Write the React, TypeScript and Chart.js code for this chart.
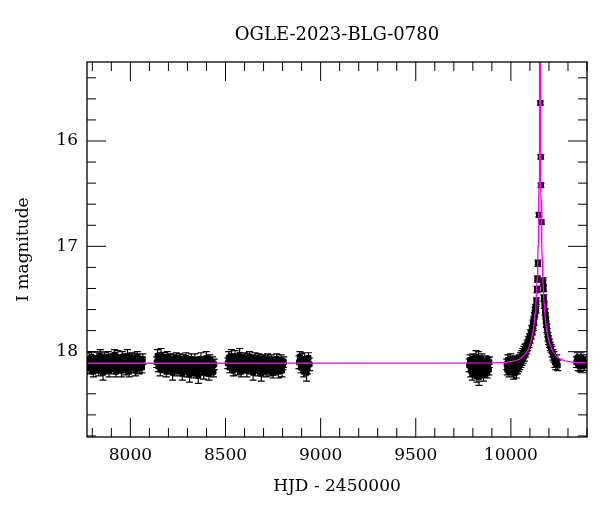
import React, { useEffect, useRef } from "react";
import { Chart, registerables } from "chart.js";

Chart.register(...registerables);

const TITLE = "OGLE-2023-BLG-0780";
const X_LABEL = "HJD - 2450000";
const Y_LABEL = "I magnitude";
const X_MIN = 7772;
const X_MAX = 10400;
const Y_MIN = 15.25;
const Y_MAX = 18.81;
const X_TICKS = [8000, 8500, 9000, 9500, 10000];
const Y_TICKS = [16, 17, 18];
const X_MINOR_STEP = 100;
const Y_MINOR_STEP = 0.2;

// [HJD-2450000, I mag, error]
const season1: number[][] = [
  [7778,18.12,.05],[7783,18.07,.06],[7787,18.16,.05],[7792,18.10,.05],[7796,18.05,.05],[7801,18.14,.06],[7805,18.19,.05],[7810,18.09,.05],[7815,18.11,.07],[7819,18.15,.05],
  [7824,18.06,.05],[7828,18.12,.06],[7833,18.18,.05],[7838,18.10,.05],[7842,18.04,.06],[7847,18.14,.05],[7851,18.08,.05],[7856,18.20,.07],[7861,18.11,.05],[7865,18.06,.05],
  [7870,18.15,.06],[7874,18.10,.05],[7879,18.13,.05],[7884,18.05,.05],[7888,18.18,.06],[7893,18.08,.05],[7897,18.14,.05],[7902,18.11,.06],[7907,18.07,.05],[7911,18.16,.05],
  [7916,18.03,.05],[7920,18.12,.06],[7925,18.19,.05],[7930,18.10,.05],[7934,18.06,.07],[7939,18.15,.05],[7943,18.08,.05],[7948,18.13,.05],[7953,18.18,.06],[7957,18.05,.05],
  [7962,18.11,.05],[7966,18.14,.06],[7971,18.07,.05],[7976,18.17,.05],[7980,18.10,.05],[7985,18.04,.06],[7989,18.12,.05],[7994,18.19,.05],[7999,18.08,.06],[8003,18.15,.05],
  [8008,18.06,.05],[8012,18.11,.05],[8017,18.14,.06],[8022,18.07,.05],[8026,18.18,.05],[8031,18.10,.06],[8036,18.05,.05],[8041,18.12,.05],[8046,18.16,.05],[8051,18.08,.06],
  [8056,18.11,.05],[8061,18.15,.05],[8065,18.07,.05],
];

const season2: number[][] = [
  [8138,18.10,.05],[8143,18.04,.06],[8147,18.14,.05],[8152,18.07,.05],[8157,18.17,.06],[8161,18.03,.06],[8166,18.11,.05],[8171,18.15,.05],[8175,18.06,.05],[8180,18.12,.06],
  [8185,18.08,.05],[8189,18.19,.05],[8194,18.05,.05],[8199,18.14,.06],[8203,18.10,.05],[8208,18.16,.05],[8213,18.07,.05],[8217,18.12,.05],[8222,18.20,.07],[8227,18.08,.05],
  [8231,18.15,.05],[8236,18.11,.06],[8241,18.06,.05],[8245,18.18,.05],[8250,18.10,.05],[8255,18.14,.06],[8259,18.07,.05],[8264,18.16,.05],[8269,18.11,.05],[8273,18.21,.06],
  [8278,18.08,.05],[8283,18.12,.05],[8287,18.15,.06],[8292,18.06,.05],[8297,18.19,.05],[8301,18.10,.05],[8306,18.14,.05],[8311,18.22,.07],[8315,18.11,.05],[8320,18.07,.05],
  [8325,18.16,.06],[8329,18.12,.05],[8334,18.20,.05],[8339,18.08,.06],[8343,18.15,.05],[8348,18.11,.05],[8353,18.18,.05],[8357,18.23,.07],[8362,18.10,.05],[8367,18.14,.05],
  [8371,18.07,.06],[8376,18.16,.05],[8381,18.12,.05],[8385,18.20,.06],[8390,18.10,.05],[8395,18.15,.05],[8399,18.06,.06],[8404,18.18,.05],[8409,18.11,.05],[8413,18.21,.06],
  [8418,18.08,.05],[8423,18.14,.05],[8427,18.16,.06],[8432,18.10,.05],[8437,18.19,.05],[8441,18.12,.05],
];

const season3: number[][] = [
  [8512,18.11,.05],[8517,18.06,.06],[8522,18.15,.05],[8526,18.08,.05],[8531,18.04,.06],[8536,18.12,.05],[8541,18.18,.05],[8545,18.10,.05],[8550,18.05,.06],[8555,18.14,.05],
  [8560,18.07,.05],[8564,18.16,.06],[8569,18.11,.05],[8574,18.03,.06],[8579,18.12,.05],[8583,18.19,.05],[8588,18.08,.05],[8593,18.14,.06],[8598,18.06,.05],[8602,18.15,.05],
  [8607,18.10,.05],[8612,18.18,.06],[8617,18.07,.05],[8621,18.12,.05],[8626,18.05,.05],[8631,18.16,.05],[8636,18.11,.06],[8640,18.08,.05],[8645,18.20,.07],[8650,18.14,.05],
  [8655,18.06,.05],[8659,18.12,.05],[8664,18.10,.06],[8669,18.18,.05],[8674,18.07,.05],[8678,18.15,.05],[8683,18.11,.06],[8688,18.21,.07],[8693,18.08,.05],[8697,18.14,.05],
  [8702,18.16,.05],[8707,18.10,.06],[8712,18.19,.05],[8716,18.12,.05],[8721,18.07,.05],[8726,18.15,.06],[8731,18.11,.05],[8735,18.18,.05],[8740,18.08,.05],[8745,18.14,.06],
  [8750,18.20,.05],[8754,18.10,.05],[8759,18.16,.06],[8764,18.12,.05],[8769,18.07,.05],[8773,18.15,.05],[8778,18.19,.06],[8783,18.11,.05],[8788,18.14,.05],[8792,18.08,.05],
  [8797,18.18,.06],[8802,18.12,.05],[8806,18.10,.05],
];

const season4: number[][] = [
  [8886,18.10,.06],[8891,18.05,.05],[8896,18.15,.05],[8901,18.08,.06],[8906,18.12,.05],[8911,18.19,.05],
  [8916,18.07,.06],[8921,18.14,.05],[8926,18.20,.08],[8931,18.16,.05],[8936,18.06,.05],[8942,18.12,.06],
];

const season5: number[][] = [
  [9781,18.13,.06],[9785,18.08,.05],[9789,18.18,.06],[9793,18.11,.05],[9797,18.21,.06],[9801,18.07,.05],[9805,18.16,.06],
  [9809,18.12,.05],[9813,18.19,.06],[9817,18.05,.06],[9821,18.23,.06],[9825,18.14,.05],[9829,18.06,.06],[9832,18.24,.08],
  [9836,18.17,.05],[9840,18.11,.06],[9844,18.20,.05],[9848,18.08,.06],[9852,18.15,.05],[9856,18.22,.06],[9860,18.12,.05],
  [9864,18.18,.06],[9868,18.09,.05],[9872,18.14,.06],[9876,18.20,.05],[9880,18.12,.06],[9884,18.17,.05],[9887,18.10,.05],
];

const season6: number[][] = [
  [9978,18.12,.05],[9981,18.17,.05],[9984,18.08,.05],[9987,18.14,.06],[9990,18.19,.05],[9993,18.11,.05],[9996,18.16,.05],[9999,18.07,.05],
  [10002,18.13,.05],[10005,18.18,.06],[10008,18.10,.05],[10011,18.15,.05],[10014,18.20,.06],[10017,18.12,.05],[10020,18.17,.05],[10023,18.09,.05],
  [10026,18.14,.05],[10029,18.19,.06],[10032,18.11,.05],[10035,18.16,.05],[10038,18.10,.05],[10041,18.14,.05],[10044,18.08,.05],[10047,18.12,.05],
  [10050,18.06,.05],[10053,18.10,.05],[10056,18.04,.05],[10059,18.08,.05],[10062,18.02,.05],[10065,18.06,.05],[10068,18.00,.05],[10071,18.04,.05],
  [10074,17.98,.05],[10077,18.01,.04],[10080,17.96,.04],[10083,17.98,.04],[10086,17.93,.04],[10089,17.95,.04],[10092,17.90,.04],[10095,17.92,.04],
  [10098,17.87,.04],[10101,17.88,.04],[10104,17.83,.04],[10107,17.84,.04],[10110,17.79,.04],[10113,17.80,.04],[10116,17.74,.04],[10118,17.76,.04],
  [10120,17.70,.03],[10122,17.72,.03],[10124,17.66,.03],[10126,17.64,.03],[10128,17.61,.03],[10130,17.58,.03],[10132,17.60,.03],[10134,17.52,.03],
  [10137,17.41,.03],[10139,17.31,.03],[10142,17.16,.03],[10147,16.70,.02],[10155,15.64,.02],[10157,16.15,.02],[10158,16.42,.02],[10161,16.77,.02],
  [10170,17.33,.03],[10172,17.40,.03],[10173,17.49,.03],[10176,17.56,.03],[10180,17.62,.03],[10182,17.66,.03],[10184,17.70,.03],[10186,17.74,.03],
  [10189,17.78,.04],[10192,17.82,.04],[10195,17.86,.04],[10199,17.89,.04],[10203,17.92,.04],[10207,17.95,.04],[10211,17.97,.04],[10216,18.00,.05],
  [10221,18.03,.05],[10226,18.05,.05],[10231,18.10,.05],[10236,18.12,.05],[10241,18.09,.06],[10246,18.13,.05],
];

const season7: number[][] = [
  [10344,18.10,.05],[10349,18.06,.05],[10354,18.13,.05],[10359,18.09,.06],[10364,18.14,.05],
  [10369,18.06,.05],[10374,18.11,.05],[10380,18.08,.05],[10386,18.13,.05],[10392,18.10,.05],
];

const observations: number[][] = [
  ...season1, ...season2, ...season3, ...season4, ...season5, ...season6, ...season7,
];

// model light curve
const modelTime: number[] = [
  7770, 9750, 9903, 9973, 10023, 10048, 10068, 10081, 10093, 10101, 10108, 10113, 10118, 10123,
  10127, 10131, 10135, 10138, 10141, 10143, 10145, 10147, 10148, 10149, 10150, 10151, 10152, 10153,
  10154, 10155, 10156, 10157, 10158, 10159, 10161, 10163, 10165, 10168, 10171, 10175, 10179, 10183,
  10188, 10193, 10198, 10205, 10213, 10225, 10238, 10258, 10283, 10333, 10403,
];
const modelMag: number[] = [
  18.11, 18.109, 18.107, 18.101, 18.087, 18.069, 18.042, 18.01, 17.97, 17.93, 17.885, 17.84, 17.79, 17.72,
  17.64, 17.55, 17.43, 17.30, 17.14, 17.00, 16.82, 16.57, 16.405, 16.20, 15.93, 15.56, 14.99, 14.39,
  14.99, 15.56, 15.93, 16.20, 16.405, 16.57, 16.82, 17.00, 17.14, 17.30, 17.43, 17.55, 17.64, 17.72,
  17.79, 17.84, 17.885, 17.93, 17.97, 18.01, 18.042, 18.069, 18.087, 18.101, 18.107,
];

const FONT = '"DejaVu Serif", serif';

const errorBarPlugin = {
  id: "errorBars",
  beforeDatasetsDraw(chart: any) {
    const { ctx, chartArea: a, scales } = chart;
    const xs = scales.x;
    const ys = scales.y;
    ctx.save();
    ctx.beginPath();
    ctx.rect(a.left, a.top, a.right - a.left, a.bottom - a.top);
    ctx.clip();
    ctx.strokeStyle = "#000";
    ctx.lineWidth = 1.2;
    ctx.beginPath();
    for (const [t, m, e] of observations) {
      const px = xs.getPixelForValue(t);
      const y1 = ys.getPixelForValue(m - e);
      const y2 = ys.getPixelForValue(m + e);
      ctx.moveTo(px, y1);
      ctx.lineTo(px, y2);
      ctx.moveTo(px - 3.5, y1);
      ctx.lineTo(px + 3.5, y1);
      ctx.moveTo(px - 3.5, y2);
      ctx.lineTo(px + 3.5, y2);
    }
    ctx.stroke();
    ctx.restore();
  },
};

const framePlugin = {
  id: "frame",
  afterDatasetsDraw(chart: any) {
    const { ctx, chartArea: a, scales } = chart;
    const xs = scales.x;
    const ys = scales.y;
    ctx.save();
    ctx.strokeStyle = "#000";
    ctx.lineWidth = 1;
    ctx.beginPath();
    const x0 = Math.ceil(X_MIN / X_MINOR_STEP);
    const x1 = Math.floor(X_MAX / X_MINOR_STEP);
    for (let k = x0; k <= x1; k++) {
      const v = k * X_MINOR_STEP;
      const px = xs.getPixelForValue(v);
      const len = X_TICKS.includes(v) ? 19 : 9;
      ctx.moveTo(px, a.bottom);
      ctx.lineTo(px, a.bottom - len);
      ctx.moveTo(px, a.top);
      ctx.lineTo(px, a.top + len);
    }
    const y0 = Math.ceil(Y_MIN / Y_MINOR_STEP - 1e-6);
    const y1 = Math.floor(Y_MAX / Y_MINOR_STEP + 1e-6);
    for (let k = y0; k <= y1; k++) {
      const v = k * Y_MINOR_STEP;
      const py = ys.getPixelForValue(v);
      const major = Y_TICKS.some((t) => Math.abs(t - v) < 1e-6);
      const len = major ? 19 : 9;
      ctx.moveTo(a.left, py);
      ctx.lineTo(a.left + len, py);
      ctx.moveTo(a.right, py);
      ctx.lineTo(a.right - len, py);
    }
    ctx.stroke();
    ctx.lineWidth = 1.3;
    ctx.strokeRect(a.left, a.top, a.right - a.left, a.bottom - a.top);
    ctx.fillStyle = "#000";
    ctx.font = "18px " + FONT;
    ctx.textAlign = "center";
    ctx.textBaseline = "middle";
    ctx.fillText(TITLE, (a.left + a.right) / 2, 35);
    ctx.restore();
  },
};

export default function App() {
  const canvasRef = useRef<HTMLCanvasElement | null>(null);

  useEffect(() => {
    const canvas = canvasRef.current;
    if (!canvas) return;
    const chart = new Chart(canvas, {
      type: "scatter",
      data: {
        datasets: [
          {
            label: "model",
            data: modelTime.map((t, i) => ({ x: t, y: modelMag[i] })),
            showLine: true,
            borderColor: "#ff00ff",
            borderWidth: 1.3,
            pointRadius: 0,
            tension: 0,
            order: 0,
          },
          {
            label: "OGLE",
            data: observations.map(([t, m]) => ({ x: t, y: m })),
            showLine: false,
            pointStyle: "rect",
            pointRadius: 3.5,
            backgroundColor: "#000",
            borderColor: "#000",
            borderWidth: 1,
            order: 1,
          },
        ],
      },
      options: {
        animation: false,
        responsive: false,
        devicePixelRatio: 1,
        layout: { padding: { top: 62, right: 13, left: 0, bottom: 0 } },
        plugins: {
          legend: { display: false },
          tooltip: { enabled: false },
          title: { display: false },
        },
        scales: {
          x: {
            type: "linear",
            min: X_MIN,
            max: X_MAX,
            grid: { display: false, drawTicks: false },
            border: { display: false },
            afterBuildTicks: (s: any) => {
              s.ticks = X_TICKS.map((v) => ({ value: v }));
            },
            afterFit: (s: any) => {
              s.height = 75;
            },
            ticks: {
              autoSkip: false,
              maxRotation: 0,
              padding: 8,
              color: "#000",
              font: { family: FONT, size: 17 },
              callback: (v: any) => String(v),
            },
            title: {
              display: true,
              text: X_LABEL,
              color: "#000",
              font: { family: FONT, size: 17 },
              padding: { top: 0, bottom: 15 },
            },
          },
          y: {
            type: "linear",
            reverse: true,
            min: Y_MIN,
            max: Y_MAX,
            grid: { display: false, drawTicks: false },
            border: { display: false },
            afterBuildTicks: (s: any) => {
              s.ticks = Y_TICKS.map((v) => ({ value: v }));
            },
            afterFit: (s: any) => {
              s.width = 87;
            },
            ticks: {
              autoSkip: false,
              padding: 9,
              color: "#000",
              font: { family: FONT, size: 17 },
              callback: (v: any) => String(v),
            },
            title: {
              display: true,
              text: Y_LABEL,
              color: "#000",
              font: { family: FONT, size: 17 },
              padding: { top: 13, bottom: 0 },
            },
          },
        },
      },
      plugins: [errorBarPlugin, framePlugin],
    });
    return () => chart.destroy();
  }, []);

  return (
    <div style={{ position: "fixed", left: 0, top: 0, width: 600, height: 512, background: "#fff" }}>
      <canvas ref={canvasRef} width={600} height={512} style={{ display: "block", width: 600, height: 512 }} />
    </div>
  );
}
